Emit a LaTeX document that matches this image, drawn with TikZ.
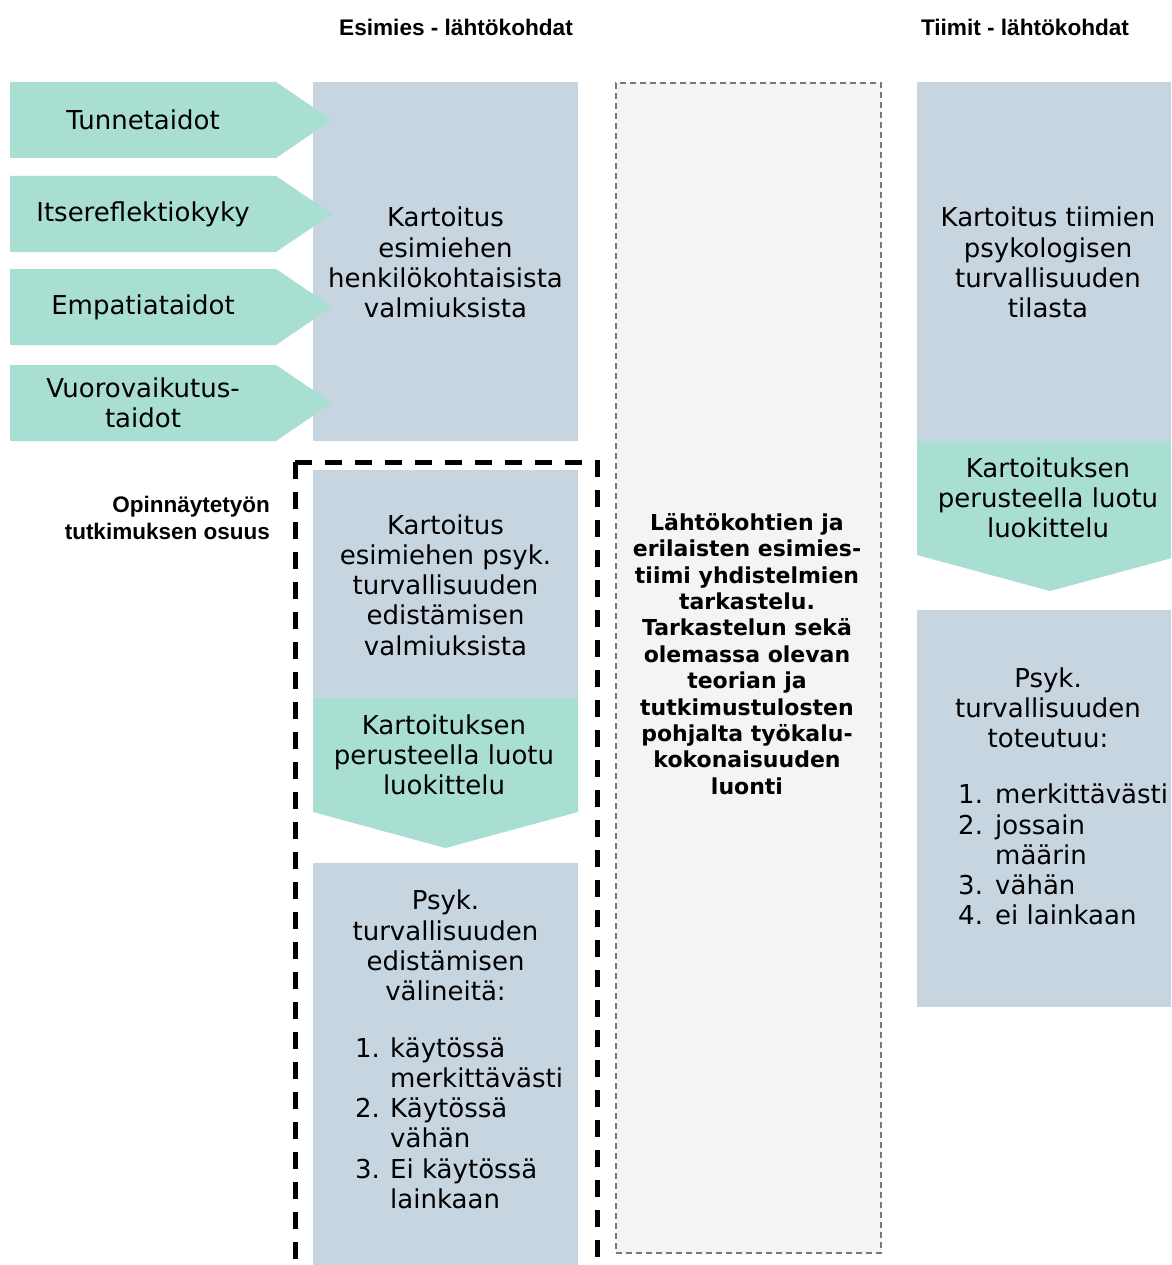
\documentclass[tikz,border=0pt]{standalone}
\usepackage{fontspec}
\setmainfont{DejaVu Sans}
\newfontfamily\hdfont{Liberation Sans}
\definecolor{boxblue}{RGB}{199,213,224}
\definecolor{boxteal}{RGB}{169,222,211}
\definecolor{midgray}{RGB}{244,244,244}
\definecolor{dashgray}{RGB}{120,120,120}
\newcommand{\lnum}[2]{\makebox[#1][l]{#2}}
\newcommand{\lind}[1]{\hspace*{#1}}
\begin{document}
\begin{tikzpicture}[x=1pt,y=-1pt,
  panel/.style={fill=boxblue, draw=none, inner sep=0, anchor=north west},
  txt/.style={inner sep=0, align=center, font=\fontsize{26}{30.2}\selectfont},
  boldtxt/.style={inner sep=0, align=center, font=\fontsize{22}{26.4}\selectfont\bfseries},
  head/.style={inner sep=0, font=\hdfont\fontsize{22.6}{26}\selectfont\bfseries},
  chevron/.style={fill=boxteal, draw=none}
]
\useasboundingbox (0,0) rectangle (1171,1265);
\clip (0,0) rectangle (1171,1265);
\fill[white] (0,0) rectangle (1171,1265);

% column headings
\node[head] (hdmgr) at (456,27) {Esimies - lähtökohdat};
\node[head] (hdteam) at (1025,27) {Tiimit - lähtökohdat};

% middle column: synthesis
\node[fill=midgray, draw=dashgray, line width=2pt, dash pattern=on 6pt off 4pt,
      minimum width=265pt, minimum height=1170pt, inner sep=0, anchor=north west] (mid) at (615,82) {};
\node[boldtxt] (midtxt) at (747,654) {Lähtökohtien ja\\erilaisten esimies-\\tiimi yhdistelmien\\tarkastelu.\\Tarkastelun sekä\\olemassa olevan\\teorian ja\\tutkimustulosten\\pohjalta työkalu-\\kokonaisuuden\\luonti};

% manager column: personal abilities
\node[panel, minimum width=265pt, minimum height=359pt] (mgr) at (313,82) {};
\node[txt] (mgrtxt) at (445.5,262.5) {Kartoitus\\esimiehen\\henkilökohtaisista\\valmiuksista};

% skill chevrons
\foreach \name/\top in {tunne/82, itse/176, empa/269, vuoro/365}{
  \fill[chevron] (10,\top) -- (276,\top) -- (332,\top+38) -- (276,\top+76) -- (10,\top+76) -- cycle;
  \coordinate (\name) at (143,\top+38);
}
\node[txt] (tunnetxt) at (tunne) {Tunnetaidot};
\node[txt] (itsetxt) at (itse) {Itsereflektiokyky};
\node[txt] (empatxt) at (empa) {Empatiataidot};
\node[txt] (vuorotxt) at (vuoro) {Vuorovaikutus-\\taidot};

% thesis part
\node[panel, minimum width=265pt, minimum height=228pt] (psyk) at (313,470) {};
\node[txt] (psyktxt) at (445.5,585) {Kartoitus\\esimiehen psyk.\\turvallisuuden\\edistämisen\\valmiuksista};
\fill[chevron] (313,698) -- (578,698) -- (578,812) -- (445.5,848) -- (313,812) -- cycle;
\node[txt] (clsL) at (444,755) {Kartoituksen\\perusteella luotu\\luokittelu};
\node[panel, minimum width=265pt, minimum height=410pt] (tools) at (313,863) {};
\node[txt] (toolshd) at (445.5,945.5) {Psyk.\\turvallisuuden\\edistämisen\\välineitä:};
\node[txt, align=left, anchor=west] (toolslist) at (355,1123)
  {\lnum{35pt}{1.}käytössä\\\lind{35pt}merkittävästi\\\lnum{35pt}{2.}Käytössä\\\lind{35pt}vähän\\\lnum{35pt}{3.}Ei käytössä\\\lind{35pt}lainkaan};

\node[inner sep=0, align=right, anchor=east, font=\hdfont\fontsize{22.5}{27}\selectfont\bfseries] (thesis) at (270,517.5) {Opinnäytetyön\\tutkimuksen osuus};
\draw[line width=5pt, dash pattern=on 17pt off 13pt] (295,462) -- (295,1290);
\draw[line width=5pt, dash pattern=on 17pt off 13pt] (295,462) -- (597,462) -- (597,1290);

% team column
\node[panel, minimum width=266pt, minimum height=359pt] (team) at (917,82) {};
\node[txt] (teamtxt) at (1048,262.5) {Kartoitus tiimien\\psykologisen\\turvallisuuden\\tilasta};
\fill[chevron] (917,441) -- (1183,441) -- (1183,555) -- (1050,591) -- (917,555) -- cycle;
\node[txt] (clsR) at (1048,498) {Kartoituksen\\perusteella luotu\\luokittelu};
\node[panel, minimum width=266pt, minimum height=397pt] (real) at (917,610) {};
\node[txt] (realhd) at (1048,708) {Psyk.\\turvallisuuden\\toteutuu:};
\node[txt, align=left, anchor=west] (reallist) at (958,854.5)
  {\lnum{37pt}{1.}merkittävästi\\\lnum{37pt}{2.}jossain\\\lind{37pt}määrin\\\lnum{37pt}{3.}vähän\\\lnum{37pt}{4.}ei lainkaan};
\end{tikzpicture}
\end{document}
